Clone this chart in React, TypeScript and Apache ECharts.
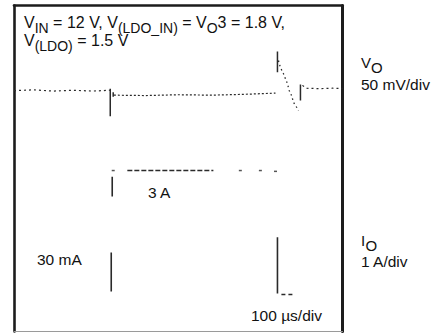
import React, { useEffect, useRef } from "react";
import * as echarts from "echarts";

// Time axis: 10 divisions x 100 µs; vertical axis: 8 screen divisions
const timeRange = [0, 1000];
const divRange = [0, 8];

// VO trace (time µs, level in divisions) — dotted portions
const voBefore = [[0, 5.91], [60, 5.93], [120, 5.9], [180, 5.92], [240, 5.9], [292, 5.92]];
const voAfterStep = [[304, 5.8], [400, 5.79], [500, 5.81], [600, 5.8], [700, 5.82], [796, 5.85]];
const voDip = [[805, 6.65], [811, 6.48], [820, 6.33], [826, 6.21], [832, 6.09], [838, 5.91], [845, 5.79], [851, 5.62], [863, 5.47], [866, 5.42]];
const voRecovery = [[878, 6.04], [890, 5.97], [930, 5.96], [970, 5.97], [1000, 5.96]];
// VO solid transitions
const voEdges = [
  [[293, 5.96], [293, 5.28]],
  [[302, 5.87], [302, 5.76]],
  [[802, 6.87], [802, 6.36]],
  [[872, 6.06], [872, 5.67]],
];

// IO trace
const ioHighDash = [[345, 3.95], [607, 3.95]];
const ioHighDots = [[302, 3.95], [689, 3.95], [750, 3.95], [796, 3.93]];
const ioEdges = [
  [[299, 3.8], [299, 3.31]],
  [[296, 1.94], [296, 0.98]],
  [[802, 2.31], [802, 0.93]],
];
const ioLowDash = [[814, 0.91], [851, 0.91]];

const titleLine1 = "{m|V}{s|IN}{m| = 12 V, V}{s|(LDO_IN)}{m| = V}{s|O}{m|3 = 1.8 V,}";
const titleLine2 = "{m|V}{s|(LDO)}{m| = 1.5 V}";

const TRACE = "#2a2a2a";
const FRAME = "#1c1c1c";
const FONT = "Liberation Sans, Arial, sans-serif";

export default function App() {
  const ref = useRef<HTMLDivElement>(null);
  useEffect(() => {
    document.body.style.margin = "0";
    if (!ref.current) return;
    const chart = echarts.init(ref.current, null, { renderer: "svg" });

    const line = (data: number[][], type: any, width: number) => ({
      type: "line",
      data,
      symbol: "none",
      silent: true,
      xAxisIndex: 0,
      yAxisIndex: 0,
      lineStyle: { color: TRACE, width, type },
    });

    const series: any[] = [
      line(voBefore, [2, 3], 1.2),
      line(voAfterStep, [2, 2], 1.2),
      line(voDip, [1.5, 3], 1.3),
      line(voRecovery, [2, 3], 1.2),
      ...voEdges.map((d) => line(d, "solid", 1.5)),
      line(ioHighDash, [5, 2], 1.5),
      {
        type: "scatter",
        data: ioHighDots,
        symbol: "rect",
        symbolSize: [3, 1.5],
        silent: true,
        itemStyle: { color: TRACE },
      },
      ...ioEdges.map((d) => line(d, "solid", 1.6)),
      line(ioLowDash, [4, 3], 1.5),
    ];

    const txt = (x: number, y: number, text: string, size = 15.5) => ({
      type: "text",
      x,
      y,
      silent: true,
      style: { text, fontSize: size, fontFamily: FONT, fill: "#111", textAlign: "left", textVerticalAlign: "middle" },
    });

    const richTxt = (x: number, y: number, text: string) => ({
      type: "text",
      x,
      y,
      silent: true,
      style: {
        text,
        fontSize: 16,
        fontFamily: FONT,
        fill: "#111",
        textAlign: "left",
        textVerticalAlign: "top",
        rich: {
          m: { fontSize: 16, fontFamily: FONT, fill: "#111", lineHeight: 18, verticalAlign: "top" },
          s: { fontSize: 14, fontFamily: FONT, fill: "#111", lineHeight: 14, verticalAlign: "top", padding: [6.5, 0, 0, 0] },
        },
      },
    });

    chart.setOption({
      animation: false,
      grid: { left: 14, right: 95.5, top: 5.5, bottom: 1.5, containLabel: false },
      xAxis: [
        {
          type: "value",
          min: timeRange[0],
          max: timeRange[1],
          position: "bottom",
          axisLine: { show: true, onZero: false, lineStyle: { color: "#9a9a9a", width: 1 } },
          axisTick: { show: false },
          axisLabel: { show: false },
          splitLine: { show: false },
        },
        {
          type: "value",
          min: timeRange[0],
          max: timeRange[1],
          position: "top",
          axisLine: { show: true, onZero: false, lineStyle: { color: FRAME, width: 2.6 } },
          axisTick: { show: false },
          axisLabel: { show: false },
          splitLine: { show: false },
        },
      ],
      yAxis: [
        {
          type: "value",
          min: divRange[0],
          max: divRange[1],
          position: "left",
          axisLine: { show: true, onZero: false, lineStyle: { color: FRAME, width: 2.6 } },
          axisTick: { show: false },
          axisLabel: { show: false },
          splitLine: { show: false },
        },
        {
          type: "value",
          min: divRange[0],
          max: divRange[1],
          position: "right",
          axisLine: { show: true, onZero: false, lineStyle: { color: FRAME, width: 3 } },
          axisTick: { show: false },
          axisLabel: { show: false },
          splitLine: { show: false },
        },
      ],
      series,
      graphic: [
        richTxt(24, 14, titleLine1),
        richTxt(24, 32.5, titleLine2),
        txt(361, 62, "V", 15),
        txt(371, 67, "O", 15),
        txt(361, 84.5, "50 mV/div"),
        txt(361, 240, "I", 15),
        txt(365.5, 245, "O", 15),
        txt(361, 261, "1 A/div"),
        txt(37, 259.5, "30 mA"),
        txt(148, 192, "3 A"),
        txt(251, 315, "100 µs/div"),
      ],
    });
    return () => chart.dispose();
  }, []);
  return <div ref={ref} style={{ width: 438, height: 333 }} />;
}
